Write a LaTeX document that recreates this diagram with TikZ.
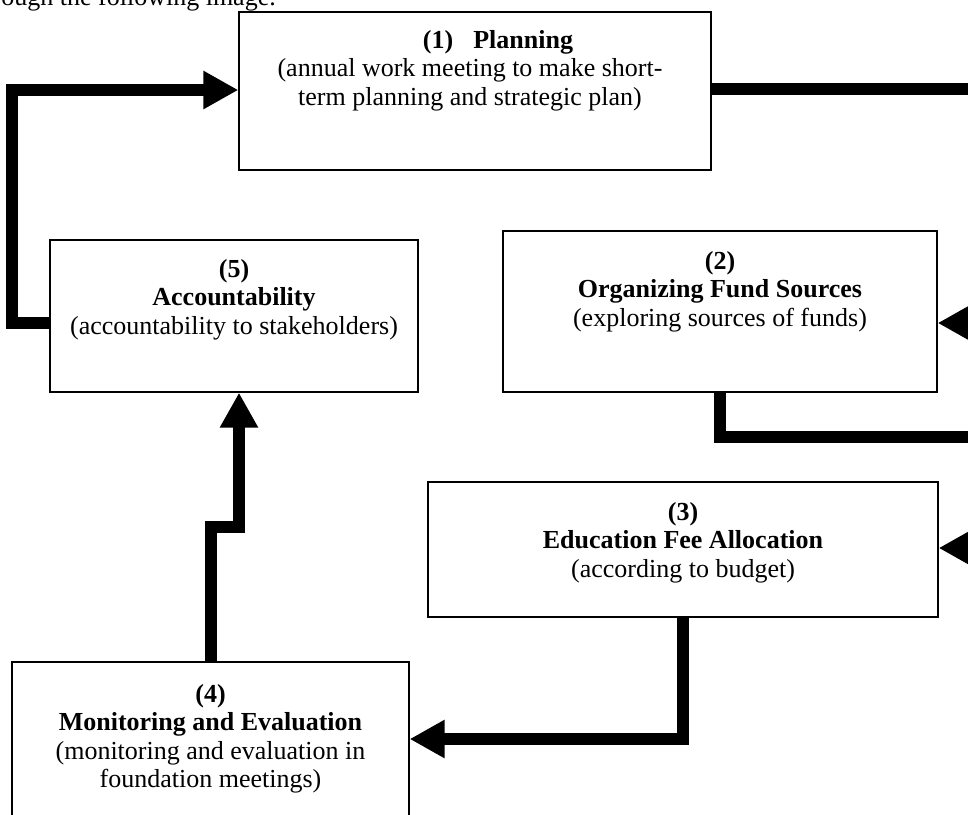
\documentclass[tikz,border=0pt]{standalone}
\usepackage{fontspec}
\setmainfont{Liberation Serif}
\usetikzlibrary{arrows.meta,positioning}

\begin{document}
\begin{tikzpicture}[x=1pt, y=-1pt,
    every node/.style={font=\fontsize{26}{28.5}\selectfont},
    stage/.style={draw, line width=1.3pt, inner sep=0pt},
    stagetxt/.style={anchor=north, align=center, inner sep=0pt},
    flow/.style={line width=11.5pt, line join=miter},
    tip/.style={-{Triangle[length=35pt,width=36pt]}}]
    \useasboundingbox (0,0) rectangle (968,814);
    \clip (0,0) rectangle (968,814);

    % page text cut by the crop
    \node [anchor=base east, inner sep=0pt] (intro) at (276,5) {ough the following image.};

    % the five stages
    \node [stage, minimum width=472pt, minimum height=158pt] (plan) at (475,91) {};
    \node [stage, minimum width=368pt, minimum height=152pt] (acc) at (234,316) {};
    \node [stage, minimum width=434pt, minimum height=161pt] (fund) at (720,311.5) {};
    \node [stage, minimum width=510pt, minimum height=135pt] (edu) at (683,549.5) {};
    \node [stage, minimum width=397pt, minimum height=188pt] (mon) at (210.5,756) {};

    \node [stagetxt] (plan-txt) at (470,30) {\hspace*{56pt}\textbf{(1)}\hspace{20pt}\textbf{Planning}\\
        (annual work meeting to make short-\\term planning and strategic plan)};
    \node [stagetxt] (acc-txt) at (234,259) {\textbf{(5)}\\\textbf{Accountability}\\
        (accountability to stakeholders)};
    \node [stagetxt] (fund-txt) at (720,251) {\textbf{(2)}\\\textbf{Organizing Fund Sources}\\
        (exploring sources of funds)};
    \node [stagetxt] (edu-txt) at (683,502) {\textbf{(3)}\\\textbf{Education Fee Allocation}\\
        (according to budget)};
    \node [stagetxt] (mon-txt) at (210.5,684) {\textbf{(4)}\\\textbf{Monitoring and Evaluation}\\
        (monitoring and evaluation in\\foundation meetings)};

    % loose ends past the right margin
    \coordinate (rim) at (980,0);

    % connectors
    \draw [flow, tip] (acc.west |- 0,323) -- (12,323) -- (12,90) -- (plan.west |- 0,90);
    \draw [flow] (plan.east |- 0,89) -- (rim |- 0,89);
    \draw [flow, tip] (rim |- 0,323) -- (fund.east |- 0,323);
    \draw [flow] (fund.south -| 720,0) -- (720,437) -- (rim |- 0,437);
    \draw [flow, tip] (rim |- 0,548) -- (edu.east |- 0,548);
    \draw [flow, tip] (edu.south) -- (683,739) -- (mon.east |- 0,739);
    \draw [flow, tip] (mon.north -| 211,0) -- (211,527) -- (239,527) -- (acc.south -| 239,0);
\end{tikzpicture}
\end{document}
